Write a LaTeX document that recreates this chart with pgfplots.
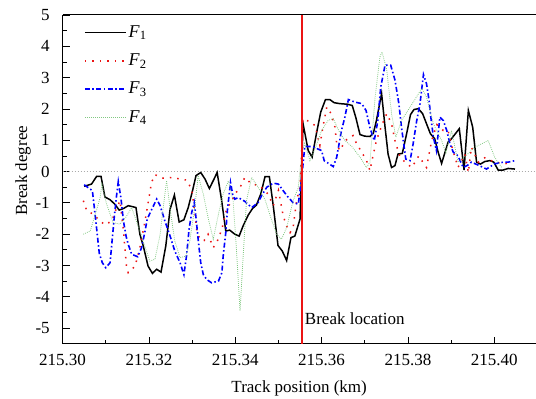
\documentclass[border=0pt]{standalone}
\usepackage{pgfplots}
\pgfplotsset{compat=1.18}
\usepackage{fontspec}
\setmainfont{Liberation Serif}
\definecolor{fgreen}{RGB}{130,200,130}
\definecolor{zgray}{RGB}{170,170,170}
\definecolor{bred}{RGB}{235,20,20}
\begin{document}
\fontsize{17bp}{20bp}\selectfont
\begin{tikzpicture}
\path[use as bounding box] (-62.6bp,-55.2bp) rectangle (473.4bp,343.8bp);
\begin{axis}[
  at={(0,0)}, anchor=south west,
  width=473.1bp, height=328.8bp, scale only axis,
  xmin=0, xmax=109.6, ymin=-5.5, ymax=5,
  axis x line*=box, axis y line*=left,
  xtick={0,20,40,60,80,100},
  xticklabels={215.30,215.32,215.34,215.36,215.38,215.40},
  minor x tick num=1,
  ytick={-5,-4,...,5}, minor y tick num=1,
  xtick pos=left, ytick pos=left,
  tick align=inside,
  major tick length=7bp, minor tick length=4bp,
  tick style={black, line width=0.8bp},
  axis line style={line width=1bp},
  /pgf/number format/assume math mode=true,
  yticklabel style={xshift=-7bp},
  xticklabel style={yshift=-5bp},
  xlabel={Track position (km)},
  ylabel={Break degree},
  xlabel style={at={(axis description cs:0.5,0)}, anchor=base, yshift=-49bp},
  ylabel style={at={(axis description cs:-0.0752,0.526)}, anchor=base},
  legend style={at={(axis description cs:0.045,0.975)}, anchor=north west, draw=none, fill=none, row sep=10bp, inner sep=0pt, font=\fontsize{18bp}{20bp}\selectfont},
  legend cell align=left,
  legend image code/.code={\draw[#1] (0bp,0bp) -- (41bp,0bp);},
]
\addplot[zgray, line width=0.8bp, dash pattern=on 0.8bp off 2.2bp, forget plot] coordinates {(0,0) (109.6,0)};

\addplot[black, line width=1.5bp] coordinates {
(5,-0.47) (6.7,-0.40) (7.9,-0.15) (8.9,-0.15) (9.8,-0.81) (11.0,-0.90) (12.1,-1.04) (13.1,-1.23) (14.1,-1.18) (15.2,-1.09) (16.2,-1.12) (17.0,-1.15) (17.9,-2.0) (18.7,-2.38) (19.8,-3.02) (20.8,-3.25) (21.8,-3.12) (22.8,-3.21) (23.9,-2.38) (24.9,-1.2) (25.9,-0.75) (27.0,-1.61) (28.1,-1.54) (29.1,-1.15) (30.1,-0.61) (30.9,-0.13) (32.0,-0.03) (33.0,-0.24) (34.0,-0.54) (34.9,-0.29) (35.8,-0.03) (36.8,-0.88) (37.8,-1.9) (38.7,-1.87) (39.9,-2.0) (40.9,-2.06) (41.8,-1.74) (43.0,-1.39) (44.0,-1.18) (44.9,-1.07) (45.9,-0.72) (46.9,-0.16) (47.9,-0.16) (48.8,-1.09) (49.9,-2.36) (50.9,-2.54) (51.9,-2.84) (52.9,-2.11) (53.8,-2.06) (55.0,-1.52) (55.7,1.53) (56.9,0.67) (57.8,0.46) (58.8,1.21) (59.8,1.90) (60.9,2.30) (61.9,2.30) (62.9,2.20) (64.2,2.17) (66.0,2.15) (67.1,2.11) (67.9,1.74) (68.9,1.18) (70.0,1.13) (71.2,1.12) (72.0,1.23) (72.7,1.63) (73.9,2.49) (74.7,1.42) (75.4,0.56) (76.2,0.13) (77.0,0.19) (77.7,0.56) (78.7,0.58) (79.7,1.21) (80.6,1.82) (81.4,1.98) (82.4,2.01) (83.4,1.85) (84.3,1.53) (85.2,1.21) (86.2,1.05) (87.0,0.62) (87.8,0.26) (88.6,0.62) (89.3,0.94) (90.1,1.05) (91.0,1.21) (91.9,1.37) (93.0,0.05) (94.0,1.95) (95.0,1.42) (95.9,0.30) (96.8,0.24) (97.8,0.32) (99.0,0.35) (99.9,0.30) (100.9,0.05) (102.1,0.05) (103.2,0.10) (104.8,0.08)
};
\addlegendentry{\textit{F}\textsubscript{1}}

\addplot[bred, line width=1.5bp, dash pattern=on 1.5bp off 6bp] coordinates {
(4.8,-0.93) (5.6,-1.25) (7.1,-1.36) (8.7,-1.58) (9.8,-1.70) (11.4,-1.58) (12.4,-1.20) (13.3,-0.93) (14.1,-1.90) (14.8,-3.02) (15.2,-3.23) (16.8,-3.02) (17.9,-2.43) (19.1,-1.58) (19.9,-0.93) (20.6,-0.35) (21.4,-0.10) (23.3,-0.21) (25.6,-0.19) (27.2,-0.24) (28.7,-0.27) (29.9,-0.56) (30.7,-1.36) (31.1,-1.90) (31.8,-2.16) (32.8,-2.20) (33.7,-2.00) (34.9,-2.43) (35.9,-2.20) (36.9,-1.84) (38.0,-1.20) (39.2,-0.93) (39.9,-0.72) (41.1,-0.51) (42.2,-0.19) (43.8,-0.40) (45.7,-0.45) (47.6,-0.72) (48.8,-1.09) (50.0,-0.60) (51.1,-1.41) (51.9,-1.74) (52.7,-1.95) (53.4,-1.80) (54.2,-0.93) (55.0,-0.50) (55.7,1.69) (57.1,1.60) (58.5,1.47) (59.6,0.83) (60.4,1.50) (61.2,2.06) (62.2,1.85) (63.1,1.42) (63.5,0.89) (64.2,0.67) (65.6,1.00) (67.3,1.15) (68.1,0.89) (69.3,0.62) (70.4,0.35) (71.2,0.03) (71.9,0.50) (72.7,0.99) (74.0,1.50) (75.1,1.85) (76.2,1.53) (77.0,0.99) (78.1,0.50) (79.3,0.30) (80.9,0.13) (82.5,0.50) (84.3,0.13) (85.5,0.99) (86.7,1.50) (88.2,1.31) (89.3,1.31) (90.1,0.83) (91.6,0.13) (93.2,0.56) (94.0,-0.03) (94.7,0.78) (96.3,0.30) (97.8,0.44) (100.1,0.30) (102.5,0.25) (104.0,0.30)
};
\addlegendentry{\textit{F}\textsubscript{2}}

\addplot[blue, line width=1.6bp, dash pattern=on 5bp off 2.5bp on 1.5bp off 2.5bp] coordinates {
(5.0,-0.42) (6.9,-0.61) (7.3,-1.09) (7.9,-1.84) (8.5,-2.61) (9.2,-2.91) (10.0,-3.07) (11.0,-2.91) (11.5,-2.16) (12.0,-1.41) (12.5,-0.77) (12.9,-0.32) (13.5,-0.83) (14.1,-1.58) (14.7,-2.06) (15.2,-2.32) (16.0,-2.64) (17.4,-2.72) (18.3,-2.43) (19.1,-1.90) (19.6,-1.52) (20.5,-1.25) (21.8,-0.88) (22.6,-1.09) (23.7,-1.58) (24.9,-2.06) (26.0,-2.54) (27.2,-2.91) (28.1,-3.29) (28.7,-2.70) (29.3,-1.84) (29.9,-1.31) (30.5,-0.99) (30.9,-1.47) (31.4,-2.16) (32.0,-2.91) (32.6,-3.29) (33.4,-3.45) (34.5,-3.55) (36.1,-3.50) (36.9,-3.23) (37.2,-2.70) (37.8,-1.95) (38.2,-1.20) (38.6,-0.72) (38.9,-0.35) (39.4,-0.72) (39.9,-0.88) (40.7,-0.83) (42.2,-0.95) (43.8,-1.15) (45.3,-0.99) (46.1,-0.77) (47.3,-0.50) (48.8,-0.37) (50.0,-0.40) (51.1,-0.61) (52.3,-0.83) (53.4,-0.99) (54.6,-1.04) (55.4,-0.19) (56.1,0.80) (57.8,0.80) (60.0,0.67) (60.6,0.35) (62.7,0.16) (63.5,0.46) (64.6,1.31) (65.4,1.74) (66.2,2.30) (67.7,2.22) (69.3,2.17) (70.3,1.95) (71.2,1.40) (72.2,0.99) (73.0,1.60) (73.7,2.70) (74.7,3.40) (76.0,3.40) (77.0,2.92) (77.9,2.17) (78.5,1.42) (79.5,0.40) (80.5,0.35) (81.2,0.88) (82.0,1.60) (82.8,2.17) (83.6,3.10) (84.3,2.81) (84.9,2.27) (85.3,1.74) (85.9,1.10) (86.6,0.67) (87.4,1.74) (88.2,1.63) (89.0,1.31) (89.7,0.90) (90.5,0.62) (91.6,0.50) (92.8,0.13) (93.8,0.20) (94.7,0.30) (96.4,0.20) (98.2,0.08) (100.1,0.25) (102.1,0.30) (103.2,0.30) (104.8,0.35)
};
\addlegendentry{\textit{F}\textsubscript{3}}

\addplot[fgreen, line width=0.8bp, dash pattern=on 0.8bp off 1.2bp] coordinates {
(4.8,-2.00) (6.4,-1.90) (7.5,-1.40) (8.7,-0.83) (9.1,-0.40) (10.1,-1.00) (11.7,-1.63) (13.3,-1.68) (14.7,-1.45) (16.0,-1.15) (17.9,-1.90) (20.2,-2.86) (21.4,-2.80) (22.6,-2.00) (23.3,-1.15) (24.1,-0.29) (24.9,-1.20) (26.0,-2.22) (27.2,-2.75) (28.6,-2.70) (29.5,-2.20) (30.7,-1.04) (31.4,-0.13) (32.6,-0.72) (33.7,-1.47) (34.9,-2.16) (36.1,-1.36) (37.2,-0.72) (38.4,-0.30) (39.5,-0.93) (40.3,-2.54) (41.1,-4.45) (41.9,-2.54) (42.6,-0.93) (43.8,-0.19) (45.3,-0.50) (46.9,-0.90) (48.3,-1.50) (49.6,-2.00) (50.7,-2.16) (51.9,-1.79) (53.4,-0.93) (54.6,-0.51) (55.4,0.60) (56.1,0.90) (57.3,0.35) (58.7,0.80) (60.0,1.31) (61.5,1.63) (62.7,1.69) (64.0,1.30) (65.4,0.99) (67.0,0.80) (68.9,0.46) (70.4,0.13) (71.2,0.30) (72.4,2.38) (73.5,3.66) (74.0,3.82) (75.1,3.24) (76.2,1.85) (77.2,1.10) (78.5,1.63) (80.5,2.06) (83.2,2.65) (84.3,2.38) (85.9,1.53) (87.8,0.99) (88.8,0.60) (90.1,1.31) (91.6,0.30) (93.4,0.50) (95.5,0.78) (98.6,0.99) (100.1,0.46) (101.7,0.13)
};
\addlegendentry{\textit{F}\textsubscript{4}}

\draw[bred, line width=2bp] (axis cs:55.4,-5.5) -- (axis cs:55.4,5);
\node[anchor=west, inner sep=0pt] at (axis cs:56.1,-4.69) {Break location};
\end{axis}
\end{tikzpicture}
\end{document}
